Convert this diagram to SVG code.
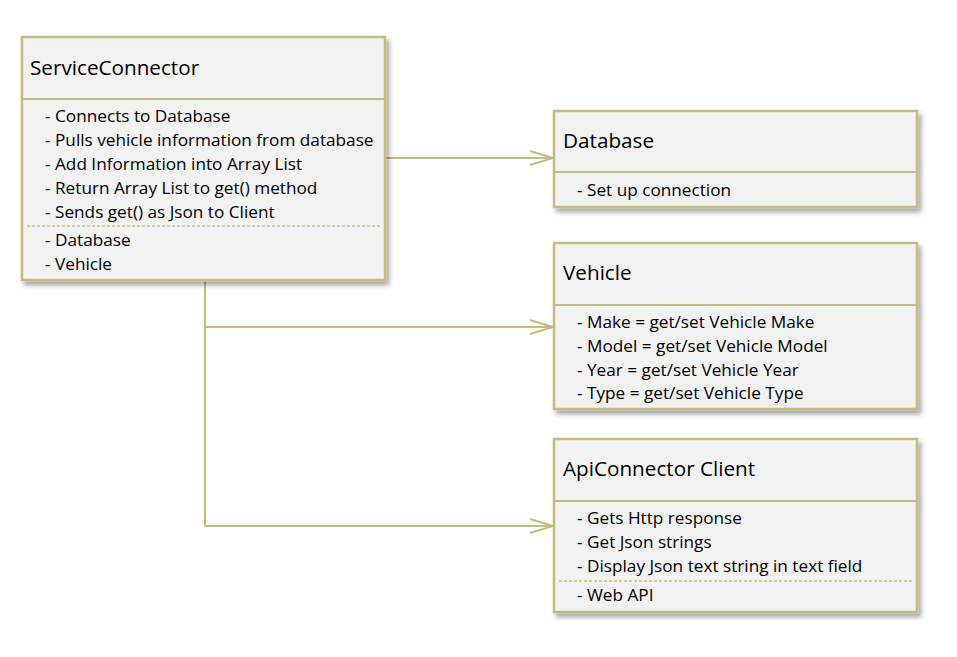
<svg xmlns="http://www.w3.org/2000/svg" width="957" height="657" viewBox="0 0 957 657">
<defs>
<style>
.box{fill:#f2f2f2;stroke:#c3bc7e;stroke-width:2.5}
.div{stroke:#c3bc7e;stroke-width:2}
.dash{stroke:#c9c17f;stroke-width:1.5;stroke-dasharray:3,2}
.t{font-family:"Open Sans","Liberation Sans",sans-serif;font-size:20.7px;fill:#000}
.i{font-family:"Open Sans","Liberation Sans",sans-serif;font-size:17.2px;fill:#000}
.c{fill:none;stroke:#c3bc7e;stroke-width:2}
</style>
<filter id="sh" x="-5%" y="-5%" width="115%" height="120%">
<feDropShadow dx="3" dy="4" stdDeviation="2.5" flood-color="#000" flood-opacity="0.35"/>
</filter>
<marker id="ar" markerWidth="30" markerHeight="20" refX="24" refY="8" orient="auto" markerUnits="userSpaceOnUse">
<path d="M1,1 L24,8 L1,15" fill="none" stroke="#c3bc7e" stroke-width="2"/>
</marker>
</defs>
<rect width="957" height="657" fill="#fff"/>
<g id="connectors">
<path class="c" d="M386,158 L553,158" marker-end="url(#ar)"/>
<path class="c" d="M205,281 L205,327 L553,327" marker-end="url(#ar)"/>
<path class="c" d="M205,327 L205,526 L553,526" marker-end="url(#ar)"/>
</g>
<g id="ServiceConnector">
<rect class="box" x="22" y="37" width="363" height="243" filter="url(#sh)"/>
<line class="div" x1="22" y1="99" x2="385" y2="99"/>
<line class="dash" x1="27" y1="226" x2="380" y2="226"/>
<text class="t" x="30" y="75">ServiceConnector</text>
<text class="i" x="45" y="122">- Connects to Database</text>
<text class="i" x="45" y="146">- Pulls vehicle information from database</text>
<text class="i" x="45" y="170">- Add Information into Array List</text>
<text class="i" x="45" y="194">- Return Array List to get() method</text>
<text class="i" x="45" y="218">- Sends get() as Json to Client</text>
<text class="i" x="45" y="246">- Database</text>
<text class="i" x="45" y="270">- Vehicle</text>
</g>
<g id="Database">
<rect class="box" x="554" y="111" width="363" height="96" filter="url(#sh)"/>
<line class="div" x1="554" y1="172" x2="917" y2="172"/>
<text class="t" x="563" y="148">Database</text>
<text class="i" x="577" y="196">- Set up connection</text>
</g>
<g id="Vehicle">
<rect class="box" x="554" y="243" width="363" height="166" filter="url(#sh)"/>
<line class="div" x1="554" y1="305" x2="917" y2="305"/>
<text class="t" x="563" y="280">Vehicle</text>
<text class="i" x="577" y="328">- Make = get/set Vehicle Make</text>
<text class="i" x="577" y="352">- Model = get/set Vehicle Model</text>
<text class="i" x="577" y="376">- Year = get/set Vehicle Year</text>
<text class="i" x="577" y="399">- Type = get/set Vehicle Type</text>
</g>
<g id="ApiConnectorClient">
<rect class="box" x="554" y="439" width="363" height="173" filter="url(#sh)"/>
<line class="div" x1="554" y1="501" x2="917" y2="501"/>
<line class="dash" x1="559" y1="581" x2="912" y2="581"/>
<text class="t" x="563" y="476">ApiConnector Client</text>
<text class="i" x="577" y="524">- Gets Http response</text>
<text class="i" x="577" y="548">- Get Json strings</text>
<text class="i" x="577" y="572">- Display Json text string in text field</text>
<text class="i" x="577" y="601">- Web API</text>
</g>
</svg>
